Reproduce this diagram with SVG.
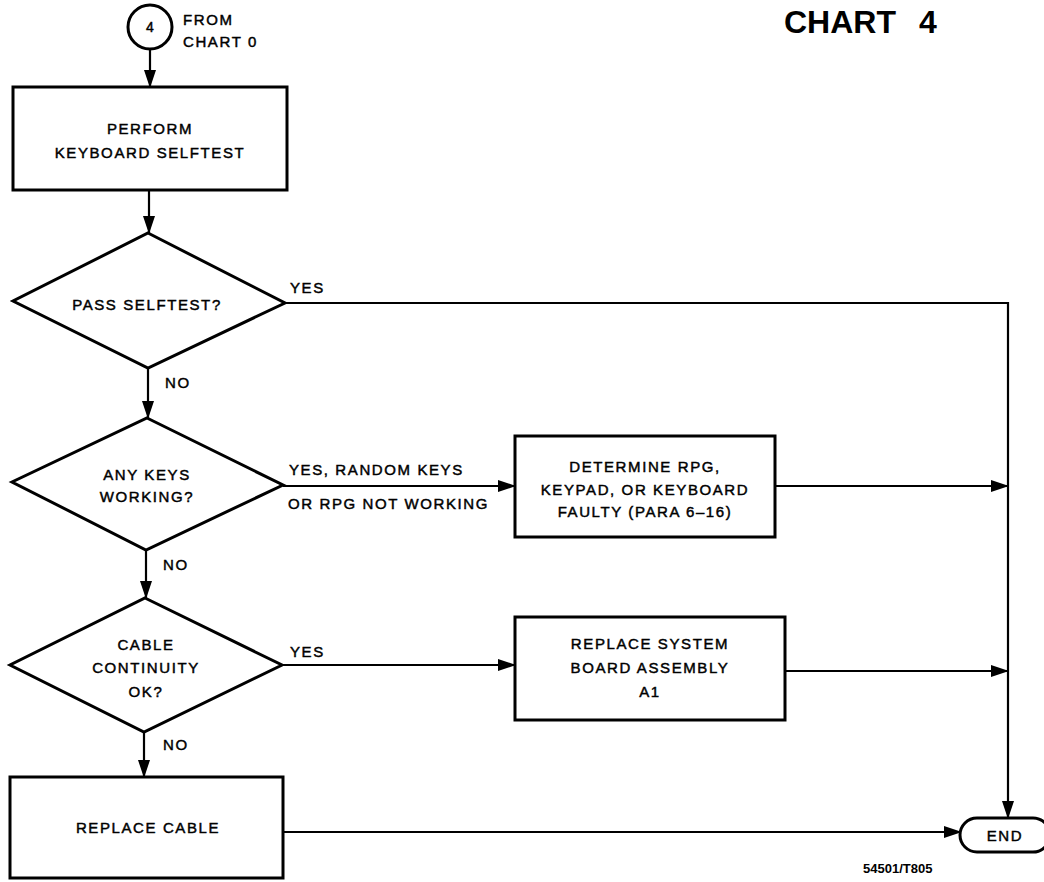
<svg xmlns="http://www.w3.org/2000/svg" width="1044" height="882" viewBox="0 0 1044 882">
<style>
.s{fill:#fff;stroke:#000;stroke-width:3}
.c{fill:none;stroke:#000;stroke-width:2.2}
text{font-family:"Liberation Sans",Arial,sans-serif;font-size:15px;letter-spacing:1.6px;fill:#000;stroke:#000;stroke-width:0.45}
.m{text-anchor:middle}
.t{font-size:32px;font-weight:bold;letter-spacing:0;stroke:none}
</style>
<defs>
<marker id="a" markerUnits="userSpaceOnUse" markerWidth="18" markerHeight="12" refX="17" refY="6" orient="auto">
<path d="M0,0 L18,6 L0,12 z" fill="#000"/>
</marker>
</defs>
<rect width="1044" height="882" fill="#fff"/>
<g id="connectors">
<path class="c" d="M150,49 V87" marker-end="url(#a)"/>
<path class="c" d="M149,190 V233" marker-end="url(#a)"/>
<path class="c" d="M148,368 V418" marker-end="url(#a)"/>
<path class="c" d="M146,550 V598" marker-end="url(#a)"/>
<path class="c" d="M144,732 V777" marker-end="url(#a)"/>
<path class="c" d="M285,303 H1008 V818" marker-end="url(#a)"/>
<path class="c" d="M283,486 H515" marker-end="url(#a)"/>
<path class="c" d="M775,486 H1008" marker-end="url(#a)"/>
<path class="c" d="M282,665 H515" marker-end="url(#a)"/>
<path class="c" d="M785,671 H1008" marker-end="url(#a)"/>
<path class="c" d="M283,832 H961" marker-end="url(#a)"/>
<text x="183" y="25">FROM</text>
<text x="183" y="47">CHART 0</text>
<text x="290" y="293">YES</text>
<text x="165" y="388">NO</text>
<text x="289" y="475">YES, RANDOM KEYS</text>
<text x="288" y="509">OR RPG NOT WORKING</text>
<text x="163" y="570">NO</text>
<text x="290" y="657">YES</text>
<text x="163" y="750">NO</text>
</g>
<g id="start">
<circle class="s" cx="150" cy="27" r="22"/>
<text class="m" x="150" y="32" style="font-size:14px;letter-spacing:0">4</text>
</g>
<g id="perform">
<rect class="s" x="13" y="87" width="274" height="103"/>
<text class="m" x="150" y="134">PERFORM</text>
<text class="m" x="150" y="158">KEYBOARD SELFTEST</text>
</g>
<g id="pass">
<polygon class="s" points="148,233 285,303 148,368 13,301"/>
<text class="m" x="147" y="310">PASS SELFTEST?</text>
</g>
<g id="anykeys">
<polygon class="s" points="147,418 283,485 146,550 12,482"/>
<text class="m" x="147" y="480">ANY KEYS</text>
<text class="m" x="147" y="502">WORKING?</text>
</g>
<g id="determine">
<rect class="s" x="515" y="436" width="260" height="101"/>
<text class="m" x="645" y="472">DETERMINE RPG,</text>
<text class="m" x="645" y="495">KEYPAD, OR KEYBOARD</text>
<text class="m" x="645" y="517">FAULTY (PARA 6–16)</text>
</g>
<g id="cable">
<polygon class="s" points="145,598 282,665 144,732 10,665"/>
<text class="m" x="146" y="650">CABLE</text>
<text class="m" x="146" y="673">CONTINUITY</text>
<text class="m" x="146" y="697">OK?</text>
</g>
<g id="replacesys">
<rect class="s" x="515" y="617" width="270" height="103"/>
<text class="m" x="650" y="649">REPLACE SYSTEM</text>
<text class="m" x="650" y="673">BOARD ASSEMBLY</text>
<text class="m" x="650" y="697">A1</text>
</g>
<g id="replacecable">
<rect class="s" x="10" y="777" width="273" height="101"/>
<text class="m" x="148" y="833">REPLACE CABLE</text>
</g>
<g id="end">
<rect class="s" x="960" y="818" width="90" height="34" rx="17"/>
<text class="m" x="1005" y="841">END</text>
</g>
<text class="t" x="784" y="33">CHART</text>
<text class="t" x="919" y="33">4</text>
<text x="863" y="873" style="font-size:13px;font-weight:bold;letter-spacing:0;stroke:none">54501/T805</text>
</svg>
